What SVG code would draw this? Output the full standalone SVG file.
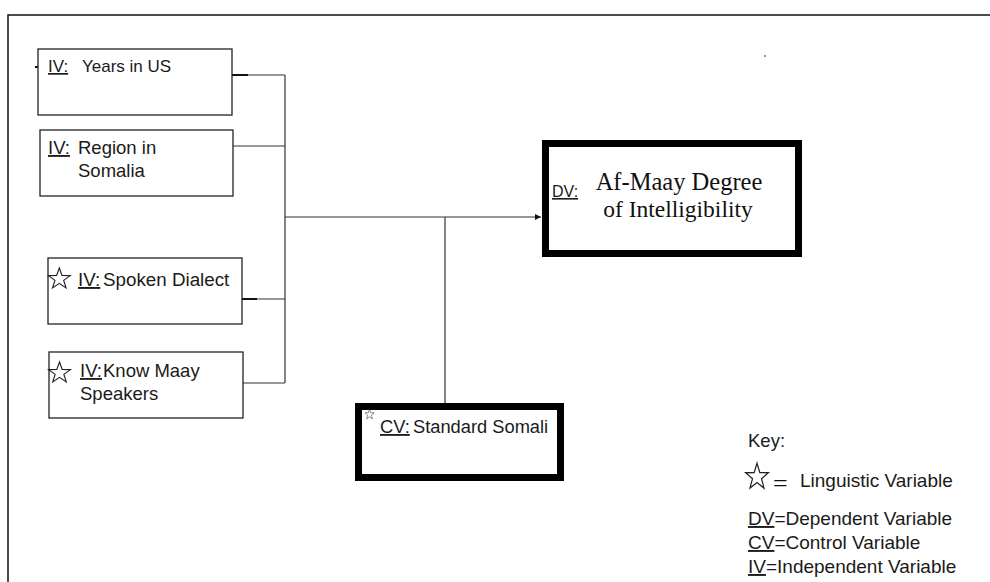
<svg xmlns="http://www.w3.org/2000/svg" xmlns:xlink="http://www.w3.org/1999/xlink" width="990" height="582" viewBox="0 0 990 582">
<style>
.frame{fill:none;stroke:#111;stroke-width:1.5}
.box{fill:#fff;stroke:#222;stroke-width:1.3}
.thick{fill:#fff;stroke:#000;stroke-width:7}
.conn{fill:none;stroke:#333;stroke-width:1.2}
.stub{fill:none;stroke:#111;stroke-width:2}
.t{font-family:"Liberation Sans",Arial,sans-serif;fill:#1a1a1a}
.serif{font-family:"Liberation Serif","Times New Roman",serif;fill:#111}
.u{text-decoration:underline}
.star{fill:#fff;stroke:#222;vector-effect:non-scaling-stroke;stroke-width:1}
</style>
<defs>
<polygon id="star" points="0,-10 2.35,-3.24 9.51,-3.09 3.8,1.24 5.88,8.09 0,4 -5.88,8.09 -3.8,1.24 -9.51,-3.09 -2.35,-3.24"/>
<marker id="arr" markerWidth="8" markerHeight="8" refX="6" refY="3" orient="auto" markerUnits="userSpaceOnUse">
<path d="M0,0 L6,3 L0,6 Z" fill="#111"/>
</marker>
</defs>
<rect width="990" height="582" fill="#fff"/>
<path class="frame" d="M8,582 V15 H990"/>
<rect x="764" y="55" width="2" height="2" fill="#999"/>

<g id="connectors">
<path class="conn" d="M232,75 H285 M233,146 H285 M242,299 H285 M243,383 H285 M285,75 V383"/>
<path class="stub" d="M232,75 H248 M242,299 H257 M35,67 H38"/>
<path class="conn" d="M285,217 H541" marker-end="url(#arr)"/>
<path class="conn" d="M445,217 V403"/>
</g>

<g id="iv-years">
<rect class="box" x="38" y="49" width="194" height="66"/>
<text class="t" font-size="17" y="72"><tspan x="48" class="u">IV:</tspan><tspan x="82">Years in US</tspan></text>
</g>

<g id="iv-region">
<rect class="box" x="40" y="130" width="193" height="66"/>
<text class="t" font-size="18.5" y="154"><tspan x="48" class="u">IV:</tspan><tspan x="78">Region in</tspan></text>
<text class="t" font-size="18.5" x="78" y="177">Somalia</text>
</g>

<g id="iv-dialect">
<rect class="box" x="48" y="258" width="194" height="66"/>
<use xlink:href="#star" class="star" transform="translate(59.3,279) scale(1.15,1.1)"/>
<text class="t" font-size="18.8" y="286"><tspan x="78" class="u">IV:</tspan><tspan x="103">Spoken Dialect</tspan></text>
</g>

<g id="iv-maay">
<rect class="box" x="49" y="352" width="194" height="66"/>
<use xlink:href="#star" class="star" transform="translate(59.5,373) scale(1.15,1.1)"/>
<text class="t" font-size="18.5" y="377"><tspan x="80" class="u">IV:</tspan><tspan x="103">Know Maay</tspan></text>
<text class="t" font-size="18.5" x="80" y="400">Speakers</text>
</g>

<g id="dv">
<rect class="thick" x="545.5" y="143.5" width="253" height="110"/>
<text class="t u" font-size="16" x="552" y="197">DV:</text>
<text class="serif" font-size="24.5" x="679" y="190" text-anchor="middle">Af-Maay Degree</text>
<text class="serif" font-size="23.5" x="678" y="217" text-anchor="middle">of Intelligibility</text>
</g>

<g id="cv">
<rect class="thick" x="358.5" y="406.5" width="202" height="71"/>
<use xlink:href="#star" class="star" transform="translate(369.5,414.5) scale(0.48,0.55)"/>
<text class="t" font-size="18.3" y="433"><tspan x="380" class="u">CV:</tspan><tspan x="413">Standard Somali</tspan></text>
</g>

<g id="key">
<text class="t" font-size="18.5" x="748" y="447">Key:</text>
<use xlink:href="#star" class="star" transform="translate(757,477) scale(1.19,1.38)"/>
<text class="serif" font-size="26" x="773" y="492">=</text>
<text class="t" font-size="19" x="800" y="487">Linguistic Variable</text>
<text class="t" font-size="19" y="525"><tspan x="748" class="u">DV</tspan><tspan>=Dependent Variable</tspan></text>
<text class="t" font-size="19" y="549"><tspan x="748" class="u">CV</tspan><tspan>=Control Variable</tspan></text>
<text class="t" font-size="19" y="573"><tspan x="748" class="u">IV</tspan><tspan>=Independent Variable</tspan></text>
</g>
</svg>
